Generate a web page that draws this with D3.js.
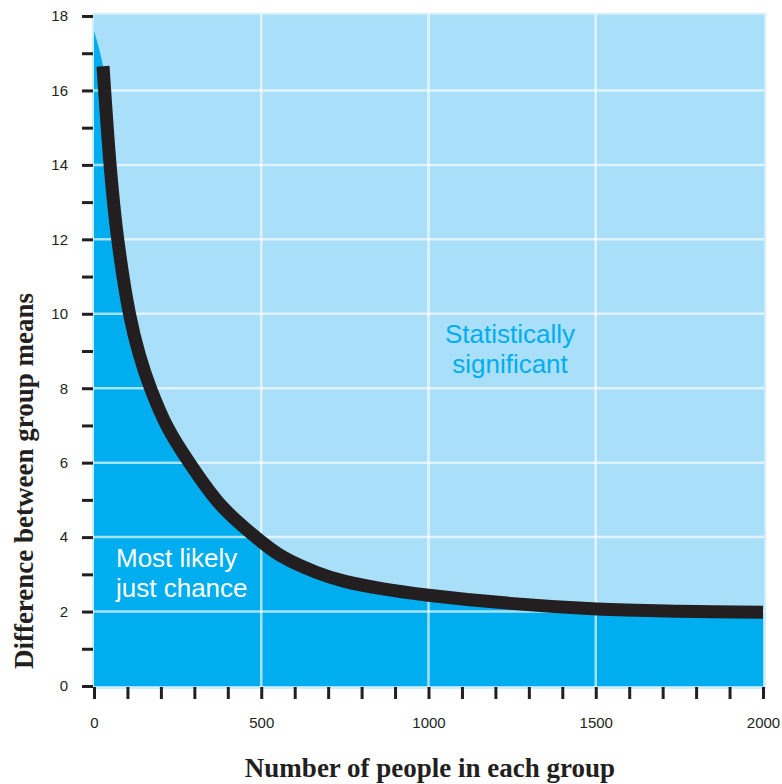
<!DOCTYPE html>
<html>
<head>
<meta charset="UTF-8" />
<title>Group size vs difference</title>
<script src="https://cdn.jsdelivr.net/npm/d3@7"></script>
<style>
  body { margin: 0; background: #fff; }
  svg { display: block; }
</style>
</head>
<body>
<svg width="782" height="784"></svg>
<script>
// values
const groupSize = [0, 27, 50, 71, 106, 135, 169, 220, 285, 380, 500, 566, 666, 750, 864, 1000, 1244, 1504, 1750, 2000];
const meanDiff = [17.6, 16.65, 13.8, 12.0, 10.0, 8.92, 8.0, 6.95, 6.0, 4.85, 3.88, 3.46, 3.05, 2.81, 2.61, 2.44, 2.22, 2.07, 2.01, 1.98];
const yTicks = d3.range(0, 19, 1);
const yLabels = [0, 2, 4, 6, 8, 10, 12, 14, 16, 18];
const xTicks = d3.range(0, 2001, 100);
const xLabels = [0, 500, 1000, 1500, 2000];
const xGrid = [500, 1000, 1500];
const yGrid = [2, 4, 6, 8, 10, 12, 14, 16];

const data = groupSize.map((n, i) => ({ n: n, d: meanDiff[i] }));

const svg = d3.select("svg");
const x = d3.scaleLinear().domain([0, 2000]).range([94, 763]);
const y = d3.scaleLinear().domain([0, 18]).range([686, 16]);

// plot background
svg.append("rect")
  .attr("x", x(0) - 1)
  .attr("y", y(18) - 2)
  .attr("width", x(2000) - x(0) + 3)
  .attr("height", y(0) - y(18) + 4)
  .attr("fill", "#a9dff9")
  .attr("stroke", "#cdeefc")
  .attr("stroke-width", 2);

// region under the curve
const area = d3.area()
  .x(d => x(d.n))
  .y0(y(0))
  .y1(d => y(d.d))
  .curve(d3.curveCatmullRom.alpha(0.5));
svg.append("path")
  .datum(data)
  .attr("d", area)
  .attr("fill", "#00adee");

// grid
svg.selectAll("line.gx").data(xGrid).enter().append("line")
  .attr("x1", d => x(d)).attr("x2", d => x(d))
  .attr("y1", y(18) - 2).attr("y2", y(0) + 1)
  .attr("stroke", "#fff").attr("stroke-opacity", 0.65).attr("stroke-width", 2.5);
svg.selectAll("line.gy").data(yGrid).enter().append("line")
  .attr("x1", x(0)).attr("x2", x(2000) + 1)
  .attr("y1", d => y(d)).attr("y2", d => y(d))
  .attr("stroke", "#fff").attr("stroke-opacity", 0.65).attr("stroke-width", 2.5);

// threshold curve
const line = d3.line()
  .x(d => x(d.n))
  .y(d => y(d.d))
  .curve(d3.curveCatmullRom.alpha(0.5));
svg.append("path")
  .datum(data.slice(1))
  .attr("d", line)
  .attr("fill", "none")
  .attr("stroke", "#231f20")
  .attr("stroke-width", 13)
  .attr("stroke-linecap", "butt");

// region labels
svg.append("text")
  .attr("x", 510).attr("y", 343)
  .attr("text-anchor", "middle")
  .style("font-family", "'Liberation Sans', Arial, sans-serif")
  .style("font-size", "26px")
  .attr("fill", "#00aeef")
  .selectAll("tspan").data(["Statistically", "significant"]).enter().append("tspan")
  .attr("x", 510).attr("dy", (d, i) => i ? 30 : 0)
  .text(d => d);

svg.append("text")
  .attr("x", 116).attr("y", 567)
  .style("font-family", "'Liberation Sans', Arial, sans-serif")
  .style("font-size", "26px")
  .attr("fill", "#fff")
  .selectAll("tspan").data(["Most likely", "just chance"]).enter().append("tspan")
  .attr("x", 116).attr("dy", (d, i) => i ? 30 : 0)
  .text(d => d);

// axes
const yAxis = d3.axisLeft(y)
  .tickValues(yTicks)
  .tickSize(11)
  .tickPadding(14)
  .tickFormat(d => yLabels.includes(d) ? d : "");
const gy = svg.append("g").attr("transform", "translate(93,0)").call(yAxis);

const xAxis = d3.axisBottom(x)
  .tickValues(xTicks)
  .tickSize(12)
  .tickPadding(18)
  .tickFormat(d => xLabels.includes(d) ? d : "");
const gx = svg.append("g").attr("transform", "translate(0,687)").call(xAxis);

[gx, gy].forEach(g => {
  g.select(".domain").remove();
  g.selectAll(".tick line").attr("stroke", "#231f20").attr("stroke-width", 3);
  g.selectAll(".tick text")
    .attr("fill", "#231f20")
    .style("font-family", "'Liberation Sans', Arial, sans-serif")
    .style("font-size", "15px");
});

// axis titles
svg.append("text")
  .attr("x", 430).attr("y", 777)
  .attr("text-anchor", "middle")
  .style("font-family", "'Liberation Serif', 'DejaVu Serif', serif")
  .style("font-weight", "bold")
  .style("font-size", "27px")
  .attr("fill", "#231f20")
  .text("Number of people in each group");

svg.append("text")
  .attr("transform", "translate(33,481) rotate(-90)")
  .attr("text-anchor", "middle")
  .style("font-family", "'Liberation Serif', 'DejaVu Serif', serif")
  .style("font-weight", "bold")
  .style("font-size", "27px")
  .attr("fill", "#231f20")
  .text("Difference between group means");
</script>
</body>
</html>
